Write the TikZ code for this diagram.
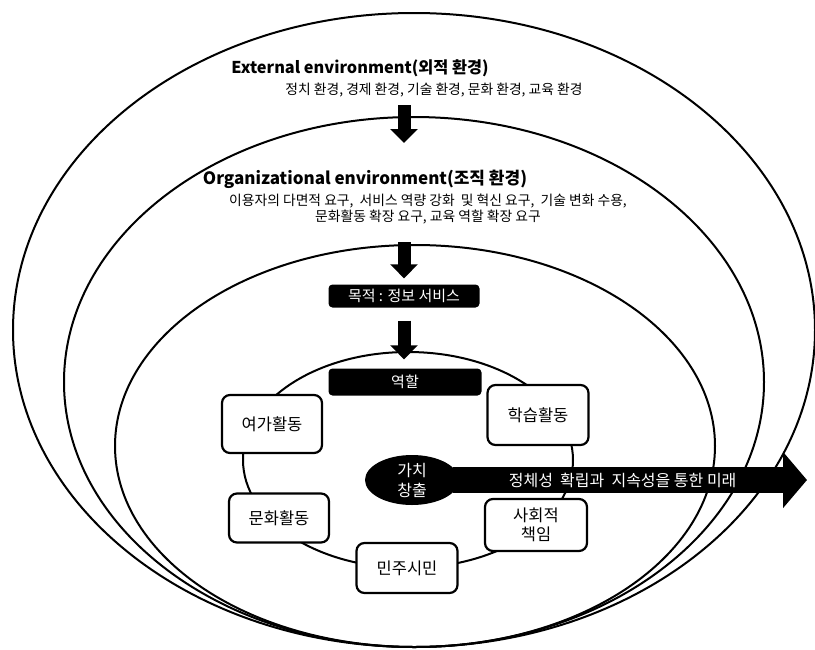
\documentclass[tikz,border=0pt]{standalone}
\usepackage{fontspec}
\setmainfont{Noto Sans CJK KR}
\usetikzlibrary{arrows.meta,shapes.geometric}

\begin{document}
\begin{tikzpicture}[x=1pt,y=-1pt,
  ring/.style={line width=2pt},
  rolebox/.style={draw=black, line width=2.2pt, fill=white, rounded corners=8pt,
    minimum width=100pt, minimum height=52pt, align=center,
    font=\fontsize{16.5}{19}\selectfont},
  blackbox/.style={fill=black, text=white, rounded corners=4pt,
    font=\fontsize{15}{17}\selectfont},
  downarrow/.style={line width=13pt, -{Triangle[width=27pt,length=14pt]}}]

\useasboundingbox (0,0) rectangle (815,649);

% Draw the three environment ellipses
\draw[ring] (414,330) ellipse [x radius=401, y radius=317];
\draw[ring] (414,382) ellipse [x radius=350, y radius=265];
\draw[ring] (415,446) ellipse [x radius=300, y radius=201];

% Circle of roles
\draw[ring] (408,460) ellipse [x radius=165, y radius=108];

% Titles of the environments
\node[font=\bfseries\fontsize{16.3}{18}\selectfont] (exttitle) at (360,68) {External environment(외적 환경)};
\node[font=\fontsize{13.8}{15}\selectfont] (extfactors) at (434,90) {정치 환경, 경제 환경, 기술 환경, 문화 환경, 교육 환경};
\node[font=\bfseries\fontsize{17}{20}\selectfont] (orgtitle) at (365,179) {Organizational environment(조직 환경)};
\node[align=center, font=\fontsize{13.8}{16}\selectfont] (orgneeds) at (428,209)
  {이용자의 다면적 요구,~~서비스 역량 강화~~및 혁신 요구,~~기술 변화 수용,\\문화활동 확장 요구, 교육 역할 확장 요구};

% Purpose and role
\node[blackbox, minimum width=151pt, minimum height=23pt] (purpose) at (404,296) {목적 : 정보 서비스};
\node[blackbox, minimum width=153pt, minimum height=27pt] (role) at (405,382) {역할};

% Role boxes
\node[rolebox, minimum height=58pt] (leisure) at (272,424) {여가활동};
\node[rolebox, minimum width=101pt, minimum height=60pt] (learning) at (538,415) {학습활동};
\node[rolebox, minimum height=49pt] (culture) at (279,518) {문화활동};
\node[rolebox, minimum width=101pt, minimum height=50pt] (citizen) at (407,568) {민주시민};
\node[rolebox, minimum width=102pt, minimum height=52pt] (social) at (536,525) {사회적\\책임};

% Value creation
\node[ellipse, fill=black, text=white, minimum width=94pt, minimum height=50pt, inner sep=0pt,
  align=center, font=\fontsize{16}{20}\selectfont] (value) at (412,480) {가치\\창출};

% Down arrows
\coordinate (extout) at (404,105);
\coordinate (orgin) at (404,143);
\coordinate (orgout) at (404,242);
\draw[downarrow] (extout) -- (orgin);
\draw[downarrow] (orgout) -- ([yshift=6pt]purpose.north);
\draw[downarrow, shorten <=13pt, shorten >=9pt] (purpose.south) -- (purpose.south |- role.north);

% Arrow to the future
\coordinate (future) at (807,480);
\draw[line width=26pt, -{Triangle[width=55pt,length=24pt]}, shorten <=-6pt] (value.east) -- (future)
  node[pos=0.47, text=white, font=\fontsize{16}{18}\selectfont] (futuretext) {정체성~~확립과~~지속성을 통한 미래};

\end{tikzpicture}
\end{document}
